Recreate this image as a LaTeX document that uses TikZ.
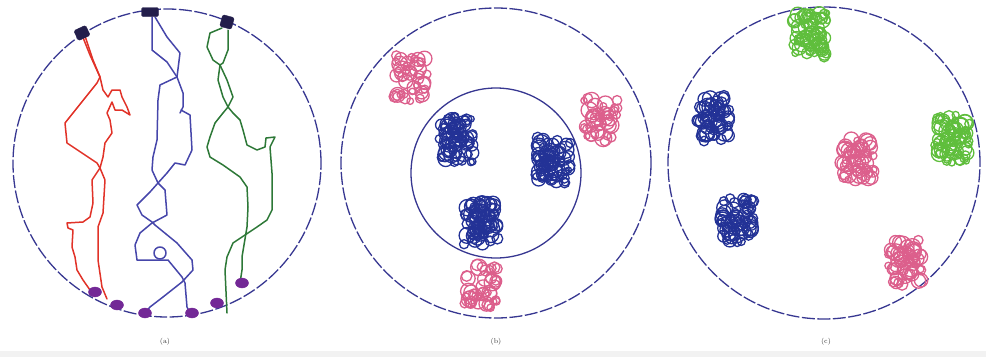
\documentclass[tikz,border=0pt]{standalone}
\usetikzlibrary{calc}
\definecolor{circ}{RGB}{55,55,145}
\definecolor{tred}{RGB}{225,50,40}
\definecolor{tblue}{RGB}{70,70,170}
\definecolor{tgreen}{RGB}{45,120,55}
\definecolor{endc}{RGB}{115,40,150}
\definecolor{startc}{RGB}{35,30,75}
\definecolor{navyc}{RGB}{35,50,150}
\definecolor{pinkc}{RGB}{220,95,140}
\definecolor{greenc}{RGB}{95,190,60}
\definecolor{bandc}{RGB}{242,242,242}
\tikzset{
  arena/.style={circ, line width=1.3pt, dash pattern=on 13pt off 2.5pt},
  track/.style={line width=1.5pt, line join=round, line cap=round},
  endblob/.style={fill=endc, draw=endc},
  startbox/.style={fill=startc, draw=startc, rounded corners=1.5pt},
  scrib/.style={line width=1.3pt},
  lbl/.style={font=\scriptsize, text=black!80}
}
\newcommand\scribcluster[4]{%
  \foreach \k in {1,...,#4}{%
    \pgfmathsetmacro\rr{3+rnd*5.5}%
    \pgfmathsetmacro\dx{(rnd-0.5)*(44-2*\rr)}%
    \pgfmathsetmacro\dy{(rnd-0.5)*(56-2*\rr)}%
    \draw[scrib,#3] ({#1+\dx},{#2+\dy}) circle[radius=\rr pt];
  }}
\begin{document}
\begin{tikzpicture}[x=1pt,y=-1pt]
\pgfmathsetseed{7}
\useasboundingbox (0,0) rectangle (986,357);
\fill[bandc] (0,351) rectangle (986,357);
% ---------- panel (a)
\draw[arena] (167,163) circle[radius=154pt];
% red trajectory
\draw[track,tred] (82,35)--(90,55)--(100,77)--(103,90)--(108,97)--(112,90)--(120,90)--(122,97)--(127,107)--(130,115)--(122,110)--(115,110)--(112,102)--(107,113)--(110,120)--(112,133)--(105,143)--(103,157)--(100,168)--(92,180)--(93,203)--(90,217)--(83,222)--(67,223)--(68,228)--(73,230)--(72,247)--(75,257)--(77,270)--(83,280)--(90,290)--(95,293);
\draw[track,tred] (85,36)--(93,60)--(100,77)--(97,83)--(65,123)--(67,143)--(97,163)--(100,168)--(105,180)--(103,213)--(98,227)--(98,260)--(102,287)--(107,299);
% blue trajectory
\draw[track,tblue] (152,17)--(152,50)--(167,62)--(177,77)--(183,93)--(183,107)--(180,113);
\draw[track,tblue] (155,17)--(167,37)--(180,53)--(177,77)--(160,85)--(158,100)--(157,140)--(153,157)--(152,170)--(158,183)--(150,192)--(137,205)--(142,215)--(152,222)--(155,225)--(177,243)--(192,260)--(193,270)--(182,282)--(163,297)--(150,307)--(145,313);
\draw[track,tblue] (181,110)--(190,115)--(192,150)--(185,165)--(175,163)--(167,173)--(158,183)--(165,190)--(167,215)--(152,223)--(140,233)--(135,245)--(137,260)--(157,260)--(168,260)--(182,277)--(185,283)--(187,307)--(190,313);
\draw[track,tblue] (160,253) circle[radius=6pt];
% green trajectory
\draw[track,tgreen] (222,28)--(210,33)--(207,47)--(213,60)--(220,65)--(227,80)--(233,97)--(228,107)--(223,113)--(215,123)--(210,137)--(207,147)--(210,157)--(223,165)--(240,177)--(247,187)--(248,207)--(247,227)--(242,257)--(242,270)--(240,283);
\draw[track,tgreen] (228,30)--(228,50)--(223,63)--(220,65)--(218,80)--(223,97)--(228,107)--(233,113)--(240,120)--(243,130)--(247,145)--(257,150)--(265,147)--(266,138)--(275,137)--(270,147)--(272,173)--(272,210)--(267,220)--(257,227)--(233,243)--(227,257)--(225,270)--(227,313);
% start boxes
\node[startbox, minimum width=13pt, minimum height=11pt, inner sep=0pt, rotate=25] (s1) at (82,33) {};
\node[startbox, minimum width=17pt, minimum height=9pt, inner sep=0pt] (s2) at (150,12) {};
\node[startbox, minimum width=12pt, minimum height=12pt, inner sep=0pt, rotate=-15] (s3) at (227,22) {};
% end blobs
\foreach \px/\py in {95/292,117/305,145/313,192/313,217/303,242/283}
  \fill[endblob] (\px,\py) ellipse[x radius=6.5pt, y radius=5pt];
\node[lbl] (la) at (165,342) {(a)};
% ---------- panel (b)
\draw[arena] (496,163) circle[radius=155pt];
\draw[circ, line width=1.3pt] (496,173) circle[radius=85pt];
\scribcluster{410}{78}{pinkc}{42}
\scribcluster{601}{120}{pinkc}{42}
\scribcluster{481}{285}{pinkc}{42}
\scribcluster{457}{139}{navyc}{75}
\scribcluster{553}{160}{navyc}{75}
\scribcluster{481}{222}{navyc}{75}
\node[lbl] (lb) at (496,342) {(b)};
% ---------- panel (c)
\draw[arena] (824,163) circle[radius=156pt];
\scribcluster{809}{34}{greenc}{70}
\scribcluster{952}{138}{greenc}{70}
\scribcluster{713}{118}{navyc}{65}
\scribcluster{737}{221}{navyc}{65}
\scribcluster{857}{159}{pinkc}{55}
\scribcluster{906}{263}{pinkc}{55}
\node[lbl] (lc) at (826,342) {(c)};
\end{tikzpicture}
\end{document}
